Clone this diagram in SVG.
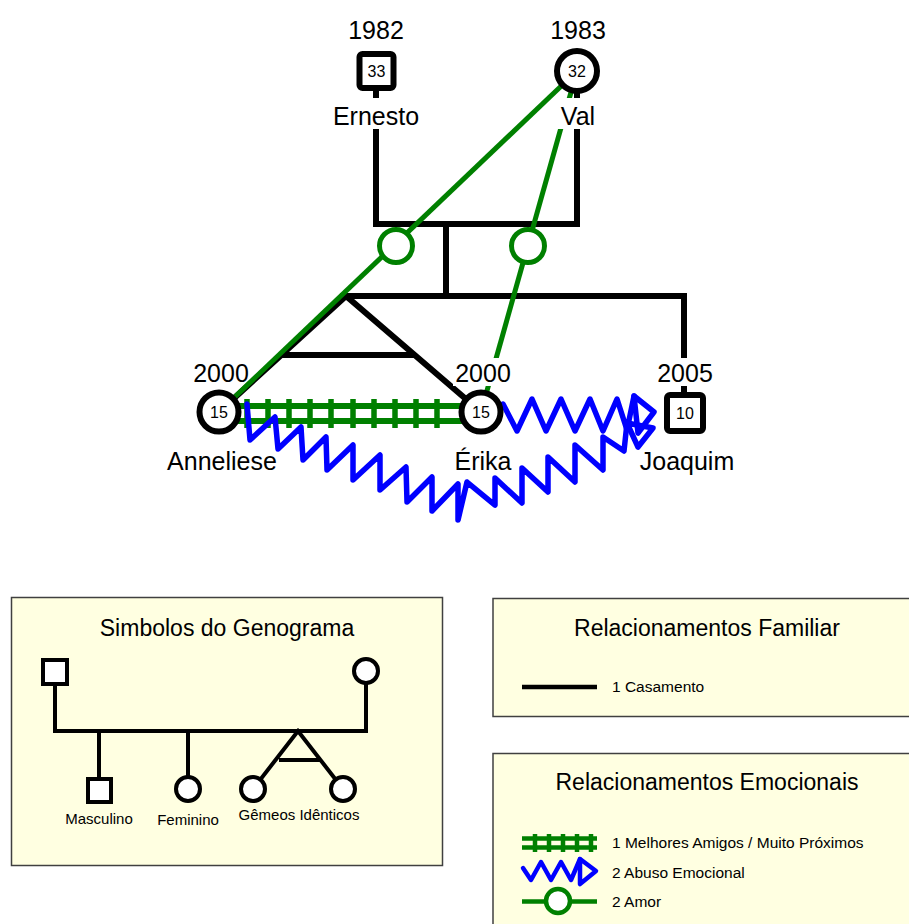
<svg xmlns="http://www.w3.org/2000/svg" width="909" height="924" viewBox="0 0 909 924">
<style>
  text { font-family: "Liberation Sans", Arial, sans-serif; fill: #000; }
  .big { font-size: 25px; text-anchor: middle; }
  .age { font-size: 16px; text-anchor: middle; }
  .bg { fill: #fff; }
  .fam { fill: none; stroke: #000; stroke-width: 6; stroke-linejoin: miter; }
  .love { fill: none; stroke: #008000; stroke-width: 5; }
  .ring { fill: #fff; stroke: #008000; stroke-width: 5; }
  .friend { fill: none; stroke: #008000; stroke-width: 6; }
  .tick { fill: none; stroke: #008000; stroke-width: 5.5; }
  .abuse { fill: none; stroke: #0000ff; stroke-width: 5.5; stroke-linejoin: round; stroke-linecap: round; }
  .node { fill: #fff; stroke: #000; stroke-width: 6; }
  .lbox { fill: #ffffe1; stroke: #404040; stroke-width: 1.5; }
  .ltitle { font-size: 23px; text-anchor: middle; }
  .lsmall { font-size: 15.5px; }
  .lcap { font-size: 15px; text-anchor: middle; }
  .lsym { fill: #fff; stroke: #000; stroke-width: 4; }
  .lline { fill: none; stroke: #000; stroke-width: 4; }
  .lgreen { fill: none; stroke: #008000; stroke-width: 4.5; }
  .lgring { fill: #fff; stroke: #008000; stroke-width: 4.5; }
  .lblue { fill: none; stroke: #0000ff; stroke-width: 4.5; stroke-linejoin: round; stroke-linecap: round; }
</style>

<g id="connectors">
  <!-- family lines -->
  <path class="fam" d="M376,71 V224 H577 V71"/>
  <path class="fam" d="M446,224 V296"/>
  <path class="fam" d="M340,296 H684 V413"/>
  <path class="fam" d="M219,412 L346,296 L481,412"/>
  <path class="fam" d="M281,355 H415"/>
  <!-- friendship -->
  <path class="friend" d="M219,406 H481 M219,421 H481"/>
  <path class="tick" d="M247,399 V428 M268,399 V428 M289,399 V428 M310,399 V428 M331,399 V428 M353,399 V428 M374,399 V428 M395,399 V428 M416,399 V428 M437,399 V428"/>
  <!-- love -->
  <path class="love" d="M577,71 L219,412"/>
  <path class="love" d="M577,71 L481,412"/>
  <circle class="ring" cx="396" cy="246" r="16.5"/>
  <circle class="ring" cx="528" cy="246" r="16.5"/>
  <!-- emotional abuse: Érika -> Joaquim -->
  <path class="abuse" d="M503,404 L517,431 L532,399 L546,431 L561,399 L575,431 L590,399 L603,431 L617,399 L627,430 L634,396"/>
  <path class="abuse" d="M634,396 L654,412 L638,433 Z"/>
  <!-- emotional abuse: Anneliese -> Joaquim -->
  <path class="abuse" d="M247,404 L250,440 L275,417 L278,449 L301,427 L303,460 L326,437 L327,470 L353,445 L353,480 L380,455 L380,490 L406,467 L407,502 L432,477 L432,511 L458,484 L458,520 L467,482 L495,505 L495,478 L522,503 L522,468 L548,492 L548,457 L575,482 L575,445 L603,470 L603,437 L624,451 L627,423"/>
  <path class="abuse" d="M627,423 L653,428 L638,447 Z"/>
</g>

<g id="node-ernesto">
  <text class="big" x="376" y="39">1982</text>
  <rect class="node" x="359.5" y="54" width="34" height="34" rx="3"/>
  <text class="age" x="376.5" y="77">33</text>
  <rect class="bg" x="330" y="98" width="94" height="31"/>
  <text class="big" x="376" y="125">Ernesto</text>
</g>

<g id="node-val">
  <text class="big" x="578" y="39">1983</text>
  <circle class="node" cx="577" cy="71" r="20"/>
  <text class="age" x="577" y="77">32</text>
  <rect class="bg" x="553" y="98" width="50" height="31"/>
  <text class="big" x="578" y="125">Val</text>
</g>

<g id="node-anneliese">
  <text class="big" x="221" y="382">2000</text>
  <circle class="node" cx="219" cy="412" r="19.5"/>
  <text class="age" x="219" y="418">15</text>
  <text class="big" x="222" y="470">Anneliese</text>
</g>

<g id="node-erika">
  <rect class="bg" x="453" y="358" width="60" height="28"/>
  <text class="big" x="483" y="382">2000</text>
  <circle class="node" cx="481" cy="412" r="19.5"/>
  <text class="age" x="481" y="418">15</text>
  <text class="big" x="483" y="470">Érika</text>
</g>

<g id="node-joaquim">
  <rect class="bg" x="655" y="358" width="60" height="28"/>
  <text class="big" x="685" y="382">2005</text>
  <rect class="node" x="667" y="395" width="36" height="36" rx="3"/>
  <text class="age" x="685" y="419">10</text>
  <text class="big" x="687" y="470">Joaquim</text>
</g>

<g id="legend-simbolos">
  <rect class="lbox" x="11.5" y="597.5" width="431" height="268"/>
  <text class="ltitle" x="227" y="636">Simbolos do Genograma</text>
  <path class="lline" d="M55,672 V731 H366 V671"/>
  <path class="lline" d="M99,731 V790 M188,731 V789"/>
  <path class="lline" d="M253,789 L298,731 L343,789 M279,760 H320"/>
  <rect class="lsym" x="43" y="660" width="24" height="24"/>
  <circle class="lsym" cx="366" cy="671" r="12"/>
  <rect class="lsym" x="88" y="779" width="23" height="23"/>
  <circle class="lsym" cx="188" cy="789" r="12"/>
  <circle class="lsym" cx="253" cy="789" r="12"/>
  <circle class="lsym" cx="343" cy="789" r="12"/>
  <text class="lcap" x="99" y="824">Masculino</text>
  <text class="lcap" x="188" y="825">Feminino</text>
  <text class="lcap" x="299" y="820">Gêmeos Idênticos</text>
</g>

<g id="legend-familiar">
  <rect class="lbox" x="493" y="598.5" width="420" height="118"/>
  <text class="ltitle" x="707" y="636">Relacionamentos Familiar</text>
  <path class="lline" d="M522,687 H597" style="stroke-width:4.5"/>
  <text class="lsmall" x="612" y="692">1 Casamento</text>
</g>

<g id="legend-emocionais">
  <rect class="lbox" x="493" y="753.5" width="420" height="180"/>
  <text class="ltitle" x="707" y="790">Relacionamentos Emocionais</text>
  <path class="lgreen" d="M522,838.5 H597 M522,847.5 H597"/>
  <path class="lgreen" d="M535,834 V852 M549,834 V852 M563,834 V852 M577,834 V852 M591,834 V852"/>
  <text class="lsmall" x="612" y="848">1 Melhores Amigos / Muito Próximos</text>
  <path class="lblue" d="M523,868 L531,880 L541,862 L551,880 L561,862 L571,880 L580,859"/>
  <path class="lblue" d="M580,859 L596,871 L580,884 Z"/>
  <text class="lsmall" x="612" y="878">2 Abuso Emocional</text>
  <path class="lgreen" d="M522,901.5 H597"/>
  <circle class="lgring" cx="558" cy="901" r="12"/>
  <text class="lsmall" x="612" y="907">2 Amor</text>
</g>
</svg>
